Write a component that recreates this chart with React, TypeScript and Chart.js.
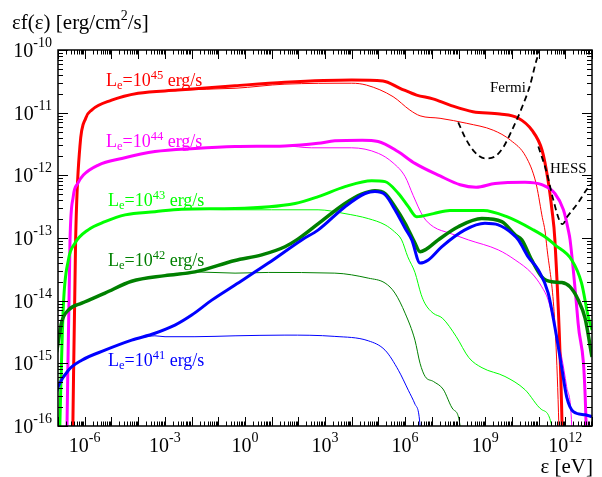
import { useEffect, useRef } from 'react';
import { Chart, registerables } from 'chart.js';

Chart.register(...registerables);

// ---------- axes ----------
const X_MIN = 1e-7;
const X_MAX = 1e13;
const Y_MIN = 1e-16;
const Y_MAX = 1e-10;
const xTickValues = [1e-6, 1e-3, 1, 1e3, 1e6, 1e9, 1e12];
const xTickExps = ['-6', '-3', '0', '3', '6', '9', '12'];
const yTickValues = [1e-16, 1e-15, 1e-14, 1e-13, 1e-12, 1e-11, 1e-10];
const yTickExps = ['-16', '-15', '-14', '-13', '-12', '-11', '-10'];
const seriesExps = ['45', '44', '43', '42', '41'];

// ---------- data (energy eV, flux erg/cm2/s) ----------
const redThickE = [3.47e-7, 4.57e-7, 6.61e-7, 1.10e-6, 1.82e-6, 1.02e-5, 1e-4, 3.09e-3, 0.427, 31.6, 1e4, 1.48e5, 6.46e5, 2.69e6, 1.10e7, 4.79e7, 3.47e8, 3.55e9, 1.70e10, 5.62e10, 1.35e11, 2.24e11, 3.16e11, 4.07e11, 7.59e11, 7.94e11];
const redThickF = [3.16e-17, 9.33e-14, 2.88e-12, 8.22e-12, 1.10e-11, 1.58e-11, 2.04e-11, 2.29e-11, 2.69e-11, 3.05e-11, 3.31e-11, 3.2e-11, 2.45e-11, 1.91e-11, 1.66e-11, 1.32e-11, 1.035e-11, 9.55e-12, 8.22e-12, 5.25e-12, 2.51e-12, 8.51e-13, 2.82e-13, 9.33e-14, 1e-16, 3.16e-17];
const redThinE = [3.47e-7, 4.57e-7, 6.61e-7, 1.10e-6, 1.82e-6, 1.02e-5, 1e-4, 3.09e-3, 0.427, 31.6, 1e4, 3.63e4, 3.55e5, 1.51e6, 3.63e6, 2.04e7, 2.04e8, 2.0e9, 8.91e9, 3.31e10, 7.94e10, 1.32e11, 1.91e11, 5.75e11, 6.03e11];
const redThinF = [3.16e-17, 9.33e-14, 2.88e-12, 8.22e-12, 1.10e-11, 1.58e-11, 2.04e-11, 2.29e-11, 2.45e-11, 2.85e-11, 2.95e-11, 2.75e-11, 1.80e-11, 1.10e-11, 8.91e-12, 8.13e-12, 6.76e-12, 5.25e-12, 3.63e-12, 2.0e-12, 7.59e-13, 2.34e-13, 9.33e-14, 1e-16, 3.16e-17];

const magThickE = [2.09e-7, 2.82e-7, 3.72e-7, 5.50e-7, 8.91e-7, 3.24e-6, 2.45e-5, 4.27e-4, 1.35e-2, 0.427, 31.6, 550, 2.34e3, 2.45e4, 9.77e4, 5.37e5, 2.34e6, 2.04e7, 1.15e8, 4.57e8, 2.34e9, 3.09e10, 1.32e11, 4.07e11, 8.51e11, 1.29e12, 1.51e12, 3.02e12, 6.03e12, 6.31e12];
const magThickF = [3.16e-17, 9.33e-14, 4.57e-13, 7.41e-13, 1.01e-12, 1.46e-12, 1.86e-12, 2.40e-12, 2.69e-12, 2.88e-12, 2.95e-12, 3.24e-12, 3.55e-12, 3.63e-12, 3.47e-12, 2.40e-12, 1.55e-12, 9.77e-13, 7.08e-13, 6.46e-13, 7.41e-13, 7.76e-13, 7.08e-13, 5.13e-13, 2.82e-13, 1.35e-13, 9.33e-14, 4.37e-15, 1e-16, 3.16e-17];
const magThinE = [2.09e-7, 2.82e-7, 3.72e-7, 5.50e-7, 8.91e-7, 3.24e-6, 2.45e-5, 4.27e-4, 1.35e-2, 0.427, 31.6, 316, 1e4, 1e5, 3.55e5, 1e6, 2.0e6, 4.79e6, 1.15e7, 4.79e7, 2.34e8, 3.09e9, 1.32e10, 5.50e10, 1.32e11, 2.29e11, 4.07e11, 7.24e11, 1.12e12, 1.74e12, 1.86e12];
const magThinF = [3.16e-17, 9.33e-14, 4.57e-13, 7.41e-13, 1.01e-12, 1.46e-12, 1.86e-12, 2.40e-12, 2.69e-12, 2.88e-12, 2.95e-12, 2.75e-12, 2.75e-12, 2.24e-12, 1.58e-12, 9.55e-13, 4.79e-13, 2.19e-13, 1.51e-13, 1.19e-13, 9.33e-14, 6.46e-14, 4.47e-14, 2.75e-14, 1.66e-14, 1.02e-14, 3.80e-15, 1.29e-15, 4.27e-16, 1e-16, 3.16e-17];

const limeThickE = [1.10e-7, 1.17e-7, 1.58e-7, 2.45e-7, 4.37e-7, 1.35e-6, 5.75e-6, 3.24e-5, 4.27e-4, 4.27e-3, 0.427, 75.9, 562, 5.62e3, 5.62e4, 1.78e5, 5.62e5, 1.32e6, 2.69e6, 1.15e7, 4.79e7, 8.51e8, 6.46e9, 6.31e10, 2.0e11, 4.07e11, 1.74e12, 4.07e12, 7.24e12, 1e13];
const limeThickF = [3.16e-17, 1e-16, 7.94e-15, 4.47e-14, 8.32e-14, 1.35e-13, 1.82e-13, 2.34e-13, 2.63e-13, 2.88e-13, 2.95e-13, 3.55e-13, 4.57e-13, 6.61e-13, 8.22e-13, 7.94e-13, 5.13e-13, 3.16e-13, 2.19e-13, 2.45e-13, 2.75e-13, 2.75e-13, 2.19e-13, 1.35e-13, 1.0e-13, 7.76e-14, 4.47e-14, 1.91e-14, 5.50e-15, 3.39e-15];
const limeThinE = [1.10e-7, 1.17e-7, 1.58e-7, 2.45e-7, 4.37e-7, 1.35e-6, 5.75e-6, 3.24e-5, 4.27e-4, 4.27e-3, 0.427, 10, 550, 5.62e3, 4.17e4, 1.78e5, 3.98e5, 7.41e5, 1.26e6, 2.34e6, 3.98e6, 5.62e6, 1.12e7, 2.51e7, 8.13e7, 2.45e8, 7.59e8, 5.50e9, 3.09e10, 1.32e11, 3.09e11, 3.55e11];
const limeThinF = [3.16e-17, 1e-16, 7.94e-15, 4.47e-14, 8.32e-14, 1.35e-13, 1.82e-13, 2.34e-13, 2.63e-13, 2.88e-13, 2.82e-13, 2.82e-13, 2.82e-13, 2.45e-13, 2.04e-13, 1.62e-13, 1.26e-13, 9.33e-14, 5.01e-14, 2.82e-14, 1.26e-14, 8.91e-15, 6.31e-15, 5.25e-15, 2.69e-15, 1.23e-15, 8.51e-16, 6.17e-16, 3.80e-16, 1.82e-16, 1e-16, 3.16e-17];

const dgThickE = [8.91e-8, 1.38e-7, 2.45e-7, 7.76e-7, 5.75e-6, 5.75e-5, 1.02e-3, 1.35e-2, 0.427, 4.27, 31.6, 87.1, 562, 5.62e3, 2.34e4, 7.41e4, 1.78e5, 4.17e5, 1e6, 2.34e6, 3.63e6, 5.62e6, 1.74e7, 9.77e7, 7.41e8, 4.17e9, 1.32e10, 2.34e10, 5.50e10, 1.32e11, 3.09e11, 7.41e11, 1.51e12, 3.09e12, 5.50e12, 1e13];
const dgThickF = [1.51e-15, 4.57e-15, 7.08e-15, 9.12e-15, 1.32e-14, 2.04e-14, 2.51e-14, 2.88e-14, 4.37e-14, 5.37e-14, 7.24e-14, 9.33e-14, 1.70e-13, 3.55e-13, 5.01e-13, 5.69e-13, 5.13e-13, 3.16e-13, 1.72e-13, 8.32e-14, 6.03e-14, 6.46e-14, 9.33e-14, 1.51e-13, 2.04e-13, 1.82e-13, 1.12e-13, 9.33e-14, 4.47e-14, 2.40e-14, 2.0e-14, 1.95e-14, 1.66e-14, 1.02e-14, 5.25e-15, 1.26e-15];
const dgThinE = [8.91e-8, 1.38e-7, 2.45e-7, 7.76e-7, 5.75e-6, 5.75e-5, 1.02e-3, 1.35e-2, 0.427, 7.59, 2.34e3, 4.17e4, 1.78e5, 4.17e5, 1e6, 2.34e6, 3.63e6, 5.62e6, 1.15e7, 2.63e7, 6.46e7, 1.15e8, 1.26e8];
const dgThinF = [1.51e-15, 4.57e-15, 7.08e-15, 9.12e-15, 1.32e-14, 2.04e-14, 2.51e-14, 2.88e-14, 2.75e-14, 2.82e-14, 2.75e-14, 2.29e-14, 1.91e-14, 1.32e-14, 6.31e-15, 2.34e-15, 1e-15, 6.17e-16, 5.13e-16, 3.89e-16, 1.82e-16, 1e-16, 3.16e-17];

const blueThickE = [8.91e-8, 1.02e-7, 2.45e-7, 7.76e-7, 5.75e-6, 5.75e-5, 4.27e-4, 2.40e-3, 1.02e-2, 5.75e-2, 0.427, 7.59, 135, 562, 5.62e3, 3.16e4, 7.41e4, 1.78e5, 4.17e5, 1e6, 1.78e6, 3.63e6, 7.41e6, 2.34e7, 1.74e8, 9.77e8, 3.09e9, 9.77e9, 1.74e10, 4.07e10, 9.77e10, 2.29e11, 4.07e11, 7.24e11, 1.12e12, 2.0e12, 5.50e12, 1e13];
const blueThickF = [3.55e-16, 4.27e-16, 7.76e-16, 1.12e-15, 1.62e-15, 2.34e-15, 3.02e-15, 4.07e-15, 5.89e-15, 1.02e-14, 1.78e-14, 3.98e-14, 9.33e-14, 1.35e-13, 3.16e-13, 5.13e-13, 5.50e-13, 4.90e-13, 2.82e-13, 1.43e-13, 9.33e-14, 3.98e-14, 4.47e-14, 7.24e-14, 1.35e-13, 1.72e-13, 1.62e-13, 1.20e-13, 9.33e-14, 5.01e-14, 3.09e-14, 1.32e-14, 3.80e-15, 8.91e-16, 2.95e-16, 1.70e-16, 1.51e-16, 1.41e-16];
const blueThinE = [8.91e-8, 1.02e-7, 2.45e-7, 7.76e-7, 5.75e-6, 5.75e-5, 4.27e-4, 1.02e-3, 1.35e-2, 0.427, 31.6, 2.34e3, 4.17e4, 1.78e5, 5.62e5, 1.32e6, 2.34e6, 3.63e6, 3.98e6];
const blueThinF = [3.55e-16, 4.27e-16, 7.76e-16, 1.12e-15, 1.62e-15, 2.34e-15, 2.75e-15, 2.66e-15, 2.66e-15, 2.75e-15, 2.82e-15, 2.69e-15, 2.29e-15, 1.62e-15, 7.76e-16, 3.72e-16, 2.24e-16, 1e-16, 3.16e-17];

const fermiE = [9.77e7, 1.74e8, 3.55e8, 9.77e8, 2.34e9, 4.79e9, 9.77e9, 2.34e10, 4.79e10, 7.41e10, 1.07e11, 1.2e11];
const fermiF = [7.0e-12, 4.07e-12, 2.51e-12, 1.86e-12, 2.0e-12, 2.82e-12, 5.13e-12, 1.19e-11, 2.75e-11, 5.75e-11, 1e-10, 1.26e-10];
const hessE = [9.77e10, 2.0e11, 3.55e11, 6.31e11, 7.94e11, 1.15e12, 2.88e12, 6.76e12, 1e13];
const hessF = [2.88e-12, 1.12e-12, 4.07e-13, 1.82e-13, 1.66e-13, 2.14e-13, 3.55e-13, 6.17e-13, 7.41e-13];

// ---------- style ----------
const RED = '#ff0000';
const MAGENTA = '#ff00ff';
const LIME = '#00ff00';
const DGREEN = '#008000';
const BLUE = '#0000ff';
const SERIF = '"Liberation Serif", "Times New Roman", serif';

const pts = (xs: number[], ys: number[]) => xs.map((x, i) => ({ x, y: ys[i] }));

type Seg = { t: string; s: number; dy: number };
function drawSegs(ctx: CanvasRenderingContext2D, segs: Seg[], x: number, y: number, align: string, color: string) {
  let total = 0;
  const widths = segs.map((sg) => {
    ctx.font = `${sg.s}px ${SERIF}`;
    const w = ctx.measureText(sg.t).width;
    total += w;
    return w;
  });
  let cx = align === 'left' ? x : align === 'center' ? x - total / 2 : x - total;
  ctx.fillStyle = color;
  ctx.textAlign = 'left';
  ctx.textBaseline = 'alphabetic';
  segs.forEach((sg, i) => {
    ctx.font = `${sg.s}px ${SERIF}`;
    ctx.fillText(sg.t, cx, y + sg.dy);
    cx += widths[i];
  });
}

const pow10 = (exp: string): Seg[] => [
  { t: '10', s: 20, dy: 0 },
  { t: exp, s: 14, dy: -10 },
];

const lumLabel = (exp: string): Seg[] => [
  { t: 'L', s: 18, dy: 0 },
  { t: 'e', s: 12.5, dy: 3 },
  { t: '=10', s: 18, dy: 0 },
  { t: exp, s: 12.5, dy: -7 },
  { t: ' erg/s', s: 18, dy: 0 },
];

const framePlugin = {
  id: 'framePlugin',
  afterDatasetsDraw(chart: any) {
    const { ctx, chartArea: a, scales } = chart;
    const xs = scales.x;
    const ys = scales.y;
    ctx.save();
    ctx.strokeStyle = '#000';
    ctx.lineWidth = 1;
    ctx.beginPath();
    for (let d = -7; d <= 13; d++) {
      for (let m = 1; m <= 9; m++) {
        const v = m * Math.pow(10, d);
        if (v < X_MIN * 0.999 || v > X_MAX * 1.001) continue;
        const px = Math.round(xs.getPixelForValue(v)) + 0.5;
        const len = m === 1 ? 9 : 4.5;
        ctx.moveTo(px, a.bottom);
        ctx.lineTo(px, a.bottom - len);
        ctx.moveTo(px, a.top);
        ctx.lineTo(px, a.top + len);
      }
    }
    for (let d = -16; d <= -10; d++) {
      for (let m = 1; m <= 9; m++) {
        const v = m * Math.pow(10, d);
        if (v < Y_MIN * 0.999 || v > Y_MAX * 1.001) continue;
        const py = Math.round(ys.getPixelForValue(v)) + 0.5;
        const len = m === 1 ? 10 : 5;
        ctx.moveTo(a.left, py);
        ctx.lineTo(a.left + len, py);
        ctx.moveTo(a.right, py);
        ctx.lineTo(a.right - len, py);
      }
    }
    ctx.stroke();
    ctx.lineWidth = 1.5;
    ctx.strokeRect(a.left, a.top, a.right - a.left, a.bottom - a.top);

    // tick labels
    xTickValues.forEach((v, i) => {
      drawSegs(ctx, pow10(xTickExps[i]), xs.getPixelForValue(v), a.bottom + 26, 'center', '#000');
    });
    yTickValues.forEach((v, i) => {
      drawSegs(ctx, pow10(yTickExps[i]), a.left - 6, ys.getPixelForValue(v) + 7, 'right', '#000');
    });

    // axis titles
    drawSegs(ctx, [
      { t: 'εf(ε) [erg/cm', s: 21, dy: 0 },
      { t: '2', s: 14, dy: -9 },
      { t: '/s]', s: 21, dy: 0 },
    ], 12, 29, 'left', '#000');
    drawSegs(ctx, [{ t: 'ε [eV]', s: 21, dy: 0 }], 593, 473, 'right', '#000');

    // series labels
    const labelColors = [RED, MAGENTA, LIME, DGREEN, BLUE];
    const labelPos = [[106, 86], [106, 147], [108, 206], [108, 266], [108, 366]];
    seriesExps.forEach((e, i) => {
      drawSegs(ctx, lumLabel(e), labelPos[i][0], labelPos[i][1], 'left', labelColors[i]);
    });
    drawSegs(ctx, [{ t: 'Fermi', s: 15, dy: 0 }], 490, 92, 'left', '#000');
    drawSegs(ctx, [{ t: 'HESS', s: 15, dy: 0 }], 550, 173, 'left', '#000');
    ctx.restore();
  },
};

function line(xs: number[], ys: number[], color: string, width: number, order: number, dash?: number[]) {
  return {
    data: pts(xs, ys),
    borderColor: color,
    borderWidth: width,
    borderDash: dash || [],
    pointRadius: 0,
    fill: false,
    cubicInterpolationMode: 'monotone',
    clip: 0,
    order,
  };
}

export default function App() {
  const ref = useRef<HTMLCanvasElement>(null);
  useEffect(() => {
    const chart = new Chart(ref.current as HTMLCanvasElement, {
      type: 'line',
      data: {
        datasets: [
          line(fermiE, fermiF, '#000', 1.8, 0, [6, 4]),
          line(hessE, hessF, '#000', 1.8, 1, [6, 4]),
          line(blueThickE, blueThickF, BLUE, 3, 2),
          line(dgThickE, dgThickF, DGREEN, 3.5, 3),
          line(limeThickE, limeThickF, LIME, 3, 4),
          line(magThickE, magThickF, MAGENTA, 3, 5),
          line(redThickE, redThickF, RED, 3, 6),
          line(blueThinE, blueThinF, BLUE, 1, 7),
          line(dgThinE, dgThinF, DGREEN, 1, 8),
          line(limeThinE, limeThinF, LIME, 1, 9),
          line(magThinE, magThinF, MAGENTA, 1, 10),
          line(redThinE, redThinF, RED, 1, 11),
        ] as any,
      },
      options: {
        responsive: false,
        animation: false,
        devicePixelRatio: 1,
        layout: { padding: { left: 58, top: 50, right: 10, bottom: 51 } },
        scales: {
          x: { type: 'logarithmic', min: X_MIN, max: X_MAX, display: false },
          y: { type: 'logarithmic', min: Y_MIN, max: Y_MAX, display: false },
        },
        plugins: { legend: { display: false }, tooltip: { enabled: false } },
      } as any,
      plugins: [framePlugin],
    });
    return () => chart.destroy();
  }, []);
  return (
    <div style={{ position: 'fixed', left: 0, top: 0, width: 602, height: 477, background: '#fff' }}>
      <canvas ref={ref} width={602} height={477} style={{ display: 'block', width: 602, height: 477 }} />
    </div>
  );
}
